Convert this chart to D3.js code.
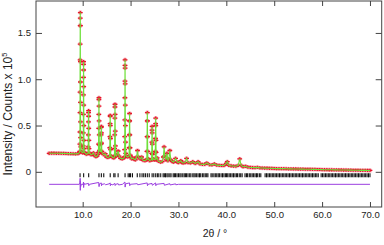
<!DOCTYPE html>
<html>
<head>
<meta charset="utf-8">
<script src="https://cdn.jsdelivr.net/npm/d3@7"></script>
<style>
  body { margin: 0; background: #fff; }
  text { font-family: "Liberation Sans", Arial, Helvetica, sans-serif; fill: #222; }
</style>
</head>
<body>
<div id="chart"></div>
<script>
// observed profile away from the strong reflections  [2theta, counts x 1e5]
const baseObs = [
  [3.0,.200],[3.5,.201],[4.0,.201],[4.5,.200],[5.0,.200],[5.5,.199],[6.0,.199],[6.5,.198],[7.0,.197],[7.5,.196],
  [8.0,.195],[8.5,.194],[9.0,.196],[9.25,.205],[9.75,.215],[10.0,.205],[10.5,.205],[10.75,.19],[11.0,.195],[11.5,.2],
  [11.75,.185],[12.0,.19],[12.25,.205],[12.5,.175],[12.75,.165],[13.0,.17],[13.2,.19],[13.6,.22],[14.1,.2],[14.4,.185],
  [14.7,.195],[15.0,.16],[15.25,.155],[15.5,.16],[16.0,.17],[16.25,.155],[16.5,.15],[17.0,.17],[17.2,.19],[17.4,.225],
  [17.6,.17],[17.9,.145],[18.25,.14],[18.6,.15],[19.1,.17],[19.4,.16],[19.95,.17],[20.25,.14],[20.5,.15],[20.75,.135],
  [21.0,.13],[21.25,.16],[21.45,.23],[21.65,.16],[22.0,.14],[22.3,.16],[22.6,.125],[23.0,.12],[23.25,.13],[23.7,.14],
  [24.0,.12],[24.25,.13],[24.75,.14],[25.0,.13],[25.55,.15],[25.8,.115],[26.25,.105],[26.6,.11],[26.85,.16],[27.0,.27],
  [27.15,.17],[27.4,.13],[27.6,.2],[27.8,.12],[28.0,.14],[28.2,.23],[28.4,.13],[28.75,.11],[29.0,.105],[29.4,.145],
  [29.75,.105],[30.0,.1],[30.5,.12],[30.75,.1],[31.0,.095],[31.4,.1],[31.7,.145],[32.0,.1],[32.5,.095],[33.0,.11],
  [33.5,.09],[34.1,.11],[34.5,.085],[35.0,.08],[35.5,.08],[35.9,.095],[36.5,.077],[37.0,.075],[37.5,.085],[38.0,.072],
  [38.5,.07],[39.0,.068],[39.5,.068],[40.0,.09],[40.2,.11],[40.5,.07],[41.0,.065],[41.5,.062],[42.0,.06],[42.5,.07],
  [42.8,.14],[43.1,.07],[43.5,.055],[44.0,.06],[44.5,.05],[45.0,.047],[45.5,.046],[46.0,.045],[46.5,.048],[47.0,.043],
  [47.5,.041],[48.0,.04],[48.5,.039],[49.0,.038],[49.5,.037],[50.0,.036],[50.5,.035],[51.0,.035],[51.5,.034],[52.0,.034],
  [52.5,.033],[53.0,.032],[53.5,.032],[54.0,.031],[54.5,.031],[55.0,.030],[55.5,.029],[56.0,.029],[56.5,.028],[57.0,.028],
  [57.5,.027],[58.0,.026],[58.5,.026],[59.0,.025],[59.5,.025],[60.0,.024],[60.5,.023],[61.0,.023],[61.5,.022],[62.0,.022],
  [62.5,.021],[63.0,.021],[63.5,.020],[64.0,.020],[64.5,.019],[65.0,.019],[65.5,.018],[66.0,.018],[66.5,.017],[67.0,.017],
  [67.5,.017],[68.0,.016],[68.5,.016],[69.0,.016],[69.5,.015],[70.0,.015]
]

// observed points across the strong reflections
const peakObs = [
  [9.38,.22],[9.41,.30],[9.43,.43],[9.44,.64],[9.45,.86],[9.46,1.21],[9.47,1.38],[9.48,1.58],[9.49,1.66],[9.50,1.72],
  [9.51,1.58],[9.52,1.19],[9.53,.97],[9.54,.75],[9.55,.54],[9.57,.37],[9.60,.27],[9.65,.22],
  [10.08,.21],[10.11,.28],[10.13,.42],[10.15,.62],[10.16,.83],[10.17,1.02],[10.18,1.16],[10.19,1.19],[10.20,1.10],
  [10.21,.92],[10.22,.72],[10.24,.50],[10.26,.34],[10.29,.25],[10.34,.21],
  [11.12,.2],[11.16,.27],[11.19,.40],[11.21,.54],[11.23,.64],[11.24,.66],[11.25,.6],[11.27,.47],[11.29,.34],[11.32,.25],[11.37,.2],
  [13.28,.21],[13.32,.3],[13.35,.47],[13.37,.62],[13.39,.78],[13.40,.80],[13.41,.71],[13.43,.55],[13.45,.40],[13.48,.29],[13.53,.23],
  [13.78,.22],[13.82,.3],[13.85,.4],[13.88,.48],[13.9,.49],[13.92,.42],[13.95,.31],[14.0,.22],
  [15.62,.17],[15.66,.26],[15.69,.38],[15.72,.52],[15.74,.6],[15.75,.61],[15.77,.5],[15.8,.36],[15.83,.24],[15.88,.17],
  [16.62,.16],[16.66,.25],[16.69,.4],[16.72,.58],[16.74,.7],[16.75,.73],[16.77,.62],[16.8,.44],[16.83,.28],[16.88,.18],
  [18.72,.16],[18.75,.24],[18.78,.38],[18.8,.56],[18.82,.8],[18.83,.98],[18.84,1.15],[18.85,1.21],[18.86,1.12],
  [18.87,.95],[18.89,.72],[18.91,.5],[18.94,.32],[18.98,.2],
  [19.68,.17],[19.72,.26],[19.75,.4],[19.78,.55],[19.8,.63],[19.82,.55],[19.85,.4],[19.88,.26],[19.93,.18],
  [23.38,.13],[23.42,.22],[23.45,.38],[23.48,.55],[23.5,.64],[23.52,.55],[23.55,.38],[23.58,.22],[23.63,.14],
  [24.38,.13],[24.42,.2],[24.45,.32],[24.48,.45],[24.5,.49],[24.52,.42],[24.55,.3],[24.58,.19],[24.63,.13],
  [25.13,.13],[25.17,.22],[25.2,.36],[25.23,.52],[25.25,.58],[25.27,.5],[25.3,.34],[25.33,.21],[25.38,.14]
]

// difference curve (obs - calc), drawn with offset
const diffCurve = [
  [3,-.135],[9.3,-.135],[9.42,-.12],[9.47,-.07],[9.5,-.2],[9.53,-.1],[9.58,-.16],[9.7,-.135],[10.1,-.135],[10.17,-.11],
  [10.2,-.17],[10.24,-.12],[10.35,-.135],[11.2,-.125],[11.28,-.15],[11.4,-.135],[13.35,-.115],[13.42,-.16],[13.5,-.13],
  [13.88,-.12],[13.93,-.15],[14.05,-.135],[14.6,-.13],[14.8,-.14],[15.5,-.13],[15.74,-.12],[15.78,-.15],[15.9,-.135],
  [16.3,-.14],[16.73,-.125],[16.78,-.148],[16.9,-.135],[17.4,-.128],[17.5,-.142],[18.3,-.135],[18.82,-.11],[18.87,-.165],
  [18.95,-.13],[19.78,-.12],[19.83,-.15],[19.95,-.135],[21.4,-.128],[21.5,-.14],[23.47,-.12],[23.53,-.15],[23.65,-.135],
  [24.48,-.125],[24.53,-.145],[25.23,-.12],[25.28,-.15],[25.4,-.135],[27.0,-.125],[27.05,-.145],[28.2,-.128],[28.25,-.142],
  [29.4,-.13],[29.45,-.14],[30,-.135],[70,-.135]
]

// reflection positions (2theta)
const reflections = [
  9.45, 10.2, 11.25, 13.4, 13.9, 14.4, 15.75, 16.5, 16.75, 17.4, 18.85, 19.5, 19.8, 20.0, 20.4, 21.4, 21.95, 22.4, 22.75,
  23.1, 23.5, 23.9, 24.5, 24.85, 25.25, 25.6, 25.9, 26.3, 26.8, 27.05, 27.3, 27.6, 27.85, 28.2, 28.45, 28.9, 29.15, 29.4,
  29.7, 30.0, 30.3, 30.55, 30.9, 31.2, 31.45, 31.7, 32.0, 32.35, 32.6, 33.0, 33.25, 33.5, 33.8, 34.1, 34.4, 34.65, 35.0,
  35.3, 35.6, 35.9, 36.15, 36.8, 37.05, 37.4, 37.7, 38.0, 38.3, 38.55, 38.9, 39.2, 39.5, 39.8, 40.05, 40.3, 40.6, 40.9,
  41.2, 41.5, 41.8, 42.1, 42.35, 42.7, 43.0, 43.3, 43.9, 44.2, 44.45, 44.8, 45.1, 45.4, 45.7, 46.0, 46.3, 46.55, 46.9,
  47.2, 48.1, 48.4, 48.7, 49.0, 49.3, 49.6, 49.9, 50.2, 50.5, 50.8, 51.1, 51.4, 51.7, 52.0, 52.3, 52.6, 52.9, 53.2, 53.5,
  53.8, 54.1, 54.4, 54.7, 55.0, 55.3, 55.6, 55.9, 56.2, 56.5, 56.8, 57.1, 57.4, 57.7, 58.0, 58.3, 58.6, 58.9, 59.2, 59.8,
  60.1, 60.4, 60.7, 61.0, 61.3, 61.6, 61.9, 62.2, 62.5, 62.8, 63.1, 63.4, 63.7, 64.0, 64.3, 64.6, 64.9, 65.2, 65.5, 65.8,
  66.1, 66.4, 66.7, 67.0, 67.3, 67.6, 67.9, 68.2, 68.5, 68.8, 69.1, 69.4, 69.7, 70.0
]

const xTicks = [10, 20, 30, 40, 50, 60, 70]
const yTicks = [0, 0.5, 1.0, 1.5]
const reflTop = -0.015, reflBottom = -0.06

const W = 384, H = 245
const margin = {top: 1, right: 2.3, bottom: 38, left: 36}

const svg = d3.select("#chart").append("svg")
  .attr("width", W).attr("height", H)

const x = d3.scaleLinear().domain([0.25, 72.45]).range([margin.left, W - margin.right])
const y = d3.scaleLinear().domain([-0.38, 1.845]).range([H - margin.bottom, margin.top])

const obs = baseObs.concat(peakObs).sort((a, b) => a[0] - b[0])
const calc = obs // calculated profile follows the observed one at this scale

// observed markers
const mk = svg.append("g")
mk.selectAll("circle").data(obs).enter().append("circle")
  .attr("cx", d => x(d[0])).attr("cy", d => y(d[1])).attr("r", 2.2)
  .style("fill", "#f3909c").style("opacity", 0.7)
mk.selectAll("path").data(obs).enter().append("path")
  .attr("d", d => {
    const cx = x(d[0]), cy = y(d[1])
    return "M" + (cx - 2.4) + "," + cy + "H" + (cx + 2.4) + "M" + cx + "," + (cy - 1.6) + "V" + (cy + 1.6)
  })
  .style("stroke", "#e8142a").style("stroke-width", 1.3).style("fill", "none")

// calculated line
svg.append("path")
  .datum(calc)
  .attr("d", d3.line().x(d => x(d[0])).y(d => y(d[1])))
  .style("fill", "none").style("stroke", "#6ee03a").style("stroke-width", 1.1)

// reflection ticks
svg.append("g").selectAll("line").data(reflections).enter().append("line")
  .attr("x1", d => x(d)).attr("x2", d => x(d))
  .attr("y1", y(reflTop)).attr("y2", y(reflBottom))
  .style("stroke", "#111").style("stroke-width", 1.1)

// difference curve
svg.append("path")
  .datum(diffCurve)
  .attr("d", d3.line().x(d => x(d[0])).y(d => y(d[1])))
  .style("fill", "none").style("stroke", "#9b3fe0").style("stroke-width", 1)

// axes, ticks pointing inward
const fmtY = d => d === 0 ? "0" : d3.format(".1f")(d)
const axL = svg.append("g").attr("transform", "translate(" + margin.left + ",0)")
  .call(d3.axisLeft(y).tickValues(yTicks).tickFormat(fmtY).tickSize(-6).tickPadding(5))
const axR = svg.append("g").attr("transform", "translate(" + (W - margin.right) + ",0)")
  .call(d3.axisRight(y).tickValues(yTicks).tickFormat("").tickSize(-6))
const axB = svg.append("g").attr("transform", "translate(0," + (H - margin.bottom) + ")")
  .call(d3.axisBottom(x).tickValues(xTicks).tickFormat(d3.format(".1f")).tickSize(-5).tickPadding(4))
const axT = svg.append("g").attr("transform", "translate(0," + margin.top + ")")
  .call(d3.axisTop(x).tickValues(xTicks).tickFormat("").tickSize(-5))

for (const ax of [axL, axR, axB, axT]) {
  ax.select(".domain").remove()
  ax.selectAll(".tick line").style("stroke", "#444")
  ax.selectAll("text").style("font-size", "9.5px").style("fill", "#222")
}

// frame
svg.append("rect")
  .attr("x", margin.left).attr("y", margin.top)
  .attr("width", W - margin.right - margin.left).attr("height", H - margin.bottom - margin.top)
  .style("fill", "none").style("stroke", "#444").style("stroke-width", 1)

// axis titles
svg.append("text")
  .attr("transform", "translate(12," + 114 + ") rotate(-90)")
  .style("text-anchor", "middle").style("font-size", "12px")
  .html('Intensity / Counts x 10<tspan dy="-5" font-size="7.5px">5</tspan>')

svg.append("text")
  .attr("x", 215).attr("y", 237)
  .style("text-anchor", "middle").style("font-size", "10.5px")
  .text("2θ / °")
</script>
</body>
</html>
